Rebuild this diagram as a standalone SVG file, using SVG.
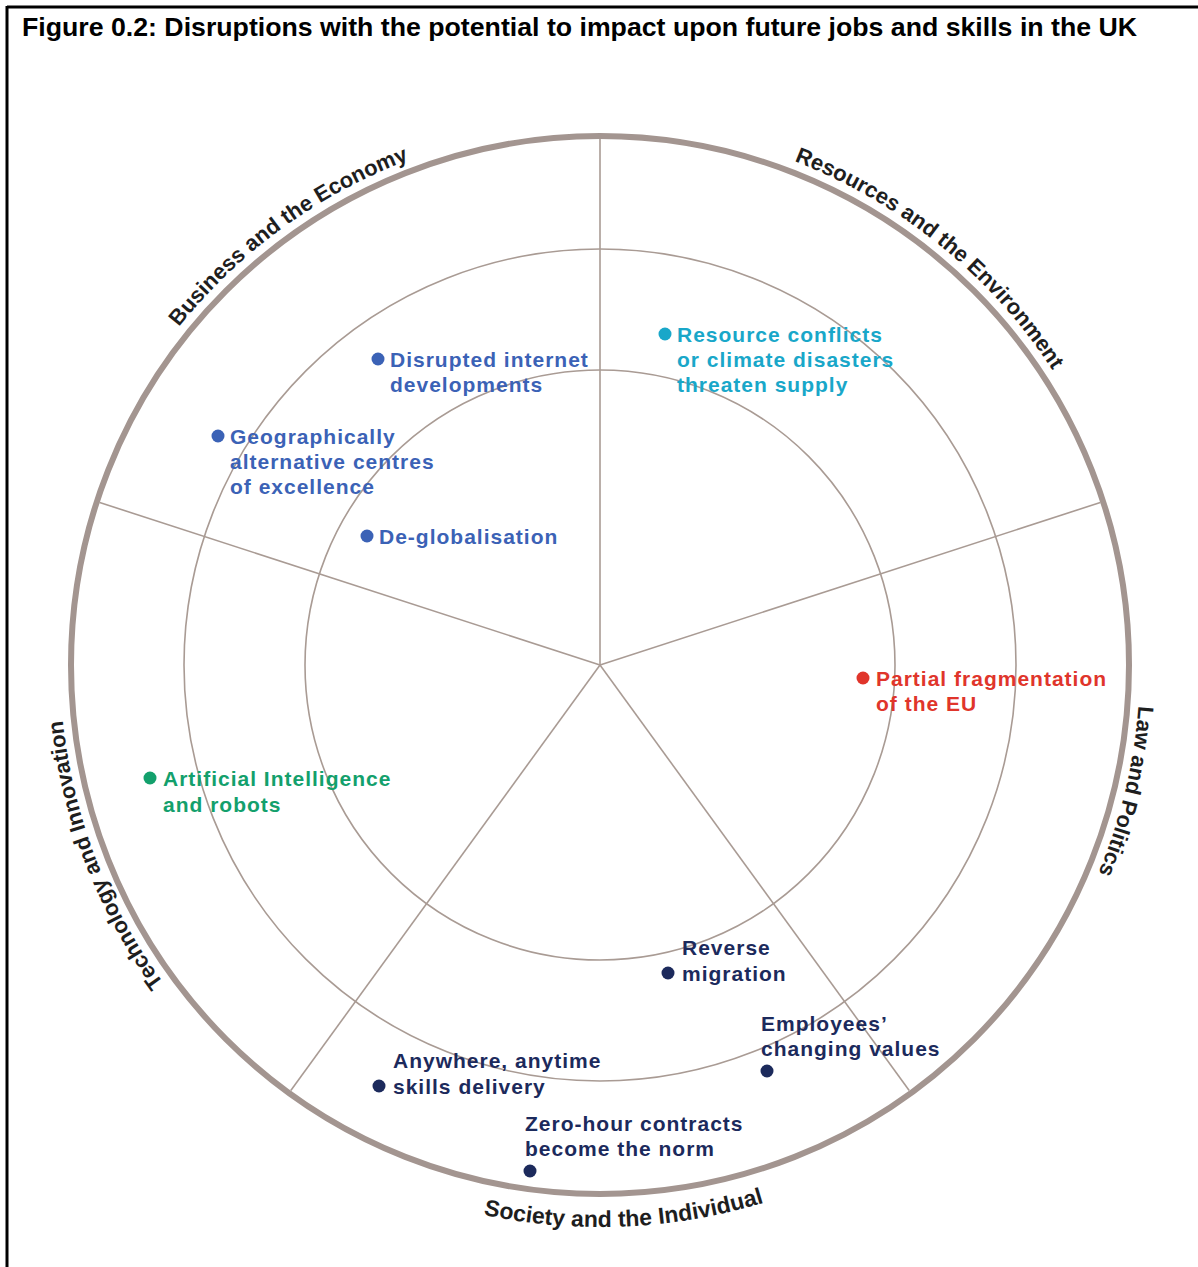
<svg xmlns="http://www.w3.org/2000/svg" width="1198" height="1267" viewBox="0 0 1198 1267">
<style>
text{font-family:"Liberation Sans",Arial,Helvetica,sans-serif;font-weight:bold}
.title{font-size:26.7px;fill:#000}
.ring{fill:none;stroke:#a99b94;stroke-width:1.6}
.outer{fill:none;stroke:#a39590;stroke-width:6}
.spoke{stroke:#a99b94;stroke-width:1.6}
.sector{font-size:22px;fill:#1e1e1e}
.soc{font-size:23px}
.lbl{font-size:21px;letter-spacing:1px}
.blue{fill:#3b62b6}
.cyan{fill:#19a7c9}
.red{fill:#e0352b}
.green{fill:#13a06c}
.navy{fill:#1c2a5c}
</style>
<defs>
<path id="pBus" d="M 92.6 480.3 A 540 540 0 0 1 581.2 125.3"/>
<path id="pRes" d="M 647.1 127.1 A 540 540 0 0 1 1116.4 507.1"/>
<path id="pLaw" d="M 1107.4 480.3 A 540 540 0 0 1 968.3 1059.9"/>
<path id="pTech" d="M 290.3 1107.3 A 540 540 0 0 1 73.8 543.5"/>
<path id="pSoc" d="M 319 1151.7 A 562 562 0 0 0 922.4 1125.4"/>
</defs>
<rect width="1198" height="1267" fill="#fff"/>
<g id="frame">
<line x1="7" y1="7" x2="1198" y2="7" stroke="#000" stroke-width="3"/>
<line x1="7" y1="6" x2="7" y2="1267" stroke="#000" stroke-width="3"/>
</g>
<text class="title" x="22" y="36">Figure 0.2: Disruptions with the potential to impact upon future jobs and skills in the UK</text>
<g id="rings">
<circle class="ring" cx="600" cy="665" r="295"/>
<circle class="ring" cx="600" cy="665" r="416"/>
<circle class="outer" cx="600" cy="665" r="529"/>
</g>
<g id="connectors">
<line class="spoke" x1="600" y1="665" x2="600" y2="139"/>
<line class="spoke" x1="600" y1="665" x2="1100.3" y2="502.5"/>
<line class="spoke" x1="600" y1="665" x2="909.2" y2="1090.5"/>
<line class="spoke" x1="600" y1="665" x2="290.8" y2="1090.5"/>
<line class="spoke" x1="600" y1="665" x2="99.7" y2="502.5"/>
</g>
<g id="sector-labels">
<text class="sector"><textPath href="#pBus" startOffset="50%" text-anchor="middle">Business and the Economy</textPath></text>
<text class="sector"><textPath href="#pRes" startOffset="50%" text-anchor="middle">Resources and the Environment</textPath></text>
<text class="sector"><textPath href="#pLaw" startOffset="50%" text-anchor="middle">Law and Politics</textPath></text>
<text class="sector"><textPath href="#pTech" startOffset="50%" text-anchor="middle">Technology and Innovation</textPath></text>
<text class="sector soc"><textPath href="#pSoc" startOffset="50%" text-anchor="middle">Society and the Individual</textPath></text>
</g>
<g id="n-internet">
<circle class="blue" cx="378" cy="359" r="6.5"/>
<text class="lbl blue" x="390" y="367">Disrupted internet<tspan x="390" dy="25">developments</tspan></text>
</g>
<g id="n-geo">
<circle class="blue" cx="218" cy="436" r="6.5"/>
<text class="lbl blue" x="230" y="444">Geographically<tspan x="230" dy="25">alternative centres</tspan><tspan x="230" dy="25">of excellence</tspan></text>
</g>
<g id="n-deglob">
<circle class="blue" cx="367" cy="536" r="6.5"/>
<text class="lbl blue" x="379" y="544">De-globalisation</text>
</g>
<g id="n-resource">
<circle class="cyan" cx="665" cy="334" r="6.5"/>
<text class="lbl cyan" x="677" y="342">Resource conflicts<tspan x="677" dy="25">or climate disasters</tspan><tspan x="677" dy="25">threaten supply</tspan></text>
</g>
<g id="n-eu">
<circle class="red" cx="863" cy="678" r="6.5"/>
<text class="lbl red" x="876" y="686">Partial fragmentation<tspan x="876" dy="25">of the EU</tspan></text>
</g>
<g id="n-ai">
<circle class="green" cx="150" cy="778" r="6.5"/>
<text class="lbl green" x="163" y="786">Artificial Intelligence<tspan x="163" dy="26">and robots</tspan></text>
</g>
<g id="n-migration">
<circle class="navy" cx="668" cy="973" r="6.5"/>
<text class="lbl navy" x="682" y="955">Reverse<tspan x="682" dy="26">migration</tspan></text>
</g>
<g id="n-values">
<circle class="navy" cx="767" cy="1071" r="6.5"/>
<text class="lbl navy" x="761" y="1031">Employees’<tspan x="761" dy="25">changing values</tspan></text>
</g>
<g id="n-anywhere">
<circle class="navy" cx="379" cy="1086" r="6.5"/>
<text class="lbl navy" x="393" y="1068">Anywhere, anytime<tspan x="393" dy="26">skills delivery</tspan></text>
</g>
<g id="n-zerohour">
<circle class="navy" cx="530" cy="1171" r="6.5"/>
<text class="lbl navy" x="525" y="1131">Zero-hour contracts<tspan x="525" dy="25">become the norm</tspan></text>
</g>
</svg>
